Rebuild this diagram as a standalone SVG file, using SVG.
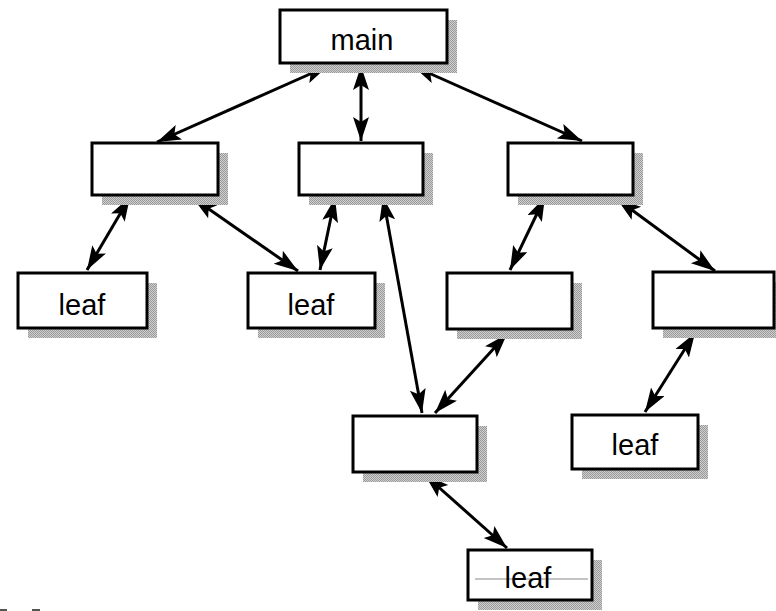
<svg xmlns="http://www.w3.org/2000/svg" width="776" height="611" viewBox="0 0 776 611">
<defs>
<pattern id="dots" width="2" height="2" patternUnits="userSpaceOnUse">
<rect width="2" height="2" fill="#d0d0d0"/>
<rect width="1" height="1" fill="#999"/>
<rect x="1" y="1" width="1" height="1" fill="#999"/>
</pattern>
<marker id="ah" markerUnits="userSpaceOnUse" markerWidth="26" markerHeight="18" refX="24" refY="8" orient="auto-start-reverse">
<path d="M0,0 L24,8 L0,16 L5,8 z" fill="#000"/>
</marker>
</defs>
<style>
.sh{fill:url(#dots)}
.bx{fill:#fff;stroke:#000;stroke-width:3}
.t{font-family:"Liberation Sans",Arial,sans-serif;font-size:29px;fill:#000;text-anchor:middle}
.c{stroke:#000;stroke-width:3;fill:none;marker-start:url(#ah);marker-end:url(#ah)}
</style>
<rect width="776" height="611" fill="#fff"/>
<g id="connectors">
<line class="c" x1="328" y1="66" x2="157" y2="142"/>
<line class="c" x1="361" y1="66" x2="361" y2="141"/>
<line class="c" x1="413" y1="66" x2="582" y2="141"/>
<line class="c" x1="130" y1="197" x2="87" y2="270"/>
<line class="c" x1="193" y1="198" x2="298" y2="271"/>
<line class="c" x1="335" y1="198" x2="320" y2="270"/>
<line class="c" x1="383" y1="197" x2="422" y2="413"/>
<line class="c" x1="545" y1="197" x2="510" y2="270"/>
<line class="c" x1="617" y1="199" x2="715" y2="271"/>
<line class="c" x1="507" y1="334" x2="435" y2="413"/>
<line class="c" x1="695" y1="333" x2="645" y2="412"/>
<line class="c" x1="425" y1="475" x2="507" y2="548"/>
</g>
<g id="main">
<rect class="sh" x="290" y="20" width="167" height="53"/>
<rect class="bx" x="280" y="10" width="167" height="53"/>
<text class="t" x="362" y="50">main</text>
</g>
<g id="n1">
<rect class="sh" x="102" y="153" width="126" height="52"/>
<rect class="bx" x="92" y="143" width="126" height="52"/>
</g>
<g id="n2">
<rect class="sh" x="309" y="153" width="124" height="52"/>
<rect class="bx" x="299" y="143" width="124" height="52"/>
</g>
<g id="n3">
<rect class="sh" x="518" y="153" width="125" height="52"/>
<rect class="bx" x="508" y="143" width="125" height="52"/>
</g>
<g id="leaf1">
<rect class="sh" x="28" y="283" width="129" height="55"/>
<rect class="bx" x="18" y="273" width="129" height="55"/>
<text class="t" x="82" y="315">leaf</text>
</g>
<g id="leaf2">
<rect class="sh" x="258" y="283" width="127" height="55"/>
<rect class="bx" x="248" y="273" width="127" height="55"/>
<text class="t" x="311" y="315">leaf</text>
</g>
<g id="n4">
<rect class="sh" x="457" y="283" width="125" height="56"/>
<rect class="bx" x="447" y="273" width="125" height="56"/>
</g>
<g id="n5">
<rect class="sh" x="663" y="282" width="125" height="56"/>
<rect class="bx" x="653" y="272" width="121" height="56"/>
</g>
<g id="n6">
<rect class="sh" x="363" y="426" width="124" height="56"/>
<rect class="bx" x="353" y="416" width="124" height="56"/>
</g>
<g id="leaf3">
<rect class="sh" x="582" y="425" width="126" height="54"/>
<rect class="bx" x="572" y="415" width="126" height="54"/>
<text class="t" x="635" y="455">leaf</text>
</g>
<g id="leaf4">
<rect class="sh" x="478" y="560" width="124" height="50"/>
<rect class="bx" x="468" y="550" width="124" height="50"/>
<line x1="475" y1="579" x2="588" y2="579" stroke="#888" stroke-width="1"/>
<text class="t" x="528" y="588">leaf</text>
</g>
<g id="marks">
<rect x="0" y="609" width="7" height="2" fill="#555"/>
<rect x="32" y="609" width="8" height="2" fill="#555"/>
</g>
</svg>
